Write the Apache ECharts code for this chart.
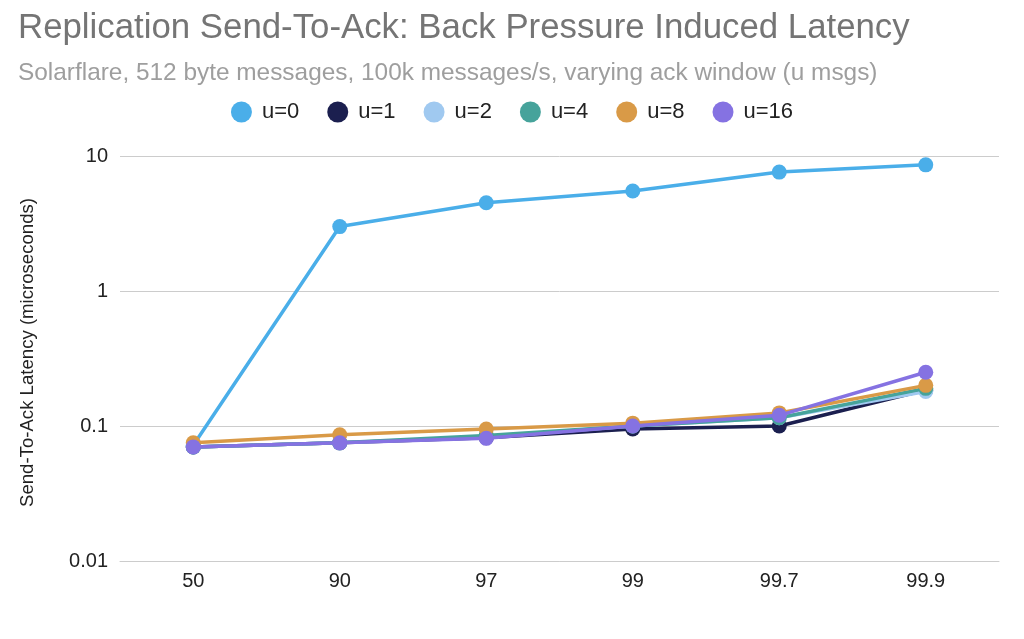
<!DOCTYPE html>
<html><head><meta charset="utf-8">
<script src="https://cdn.jsdelivr.net/npm/echarts@6/dist/echarts.min.js"></script>
<style>html,body{margin:0;padding:0;background:#fff}#c{width:1024px;height:639px}</style>
</head><body><div id="c"></div>
<script>
const categories = ['50','90','97','99','99.7','99.9'];
const u0  = [0.072, 3.0, 4.5, 5.5, 7.6, 8.6];
const u1  = [0.070, 0.075, 0.082, 0.095, 0.100, 0.185];
const u2  = [0.070, 0.075, 0.083, 0.100, 0.115, 0.180];
const u4  = [0.070, 0.075, 0.085, 0.100, 0.115, 0.190];
const u8  = [0.075, 0.086, 0.095, 0.105, 0.125, 0.200];
const u16 = [0.070, 0.075, 0.081, 0.100, 0.120, 0.250];
const names = ['u=0','u=1','u=2','u=4','u=8','u=16'];
const colors = ['#4aaee9','#1b1f4f','#a0c9f0','#46a39b','#d99a47','#8572e2'];
const values = [u0,u1,u2,u4,u8,u16];
const font = '"Liberation Sans", Arial, sans-serif';
const chart = echarts.init(document.getElementById('c'));
chart.setOption({
  animation:false,
  color: colors,
  title:[
    {text:'Replication Send-To-Ack: Back Pressure Induced Latency', left:13, top:6,
     textStyle:{fontFamily:font, fontSize:34.8, fontWeight:'normal', color:'#757575'}},
    {text:'Solarflare, 512 byte messages, 100k messages/s, varying ack window (u msgs)', left:13, top:56,
     textStyle:{fontFamily:font, fontSize:24.4, fontWeight:'normal', color:'#9e9e9e'}}
  ],
  legend:{top:96, left:'center', icon:'circle', itemWidth:21, itemHeight:21, itemGap:28,
    textStyle:{fontFamily:font, fontSize:22, color:'#222', padding:[0,0,0,5]}, data:names},
  grid:{left:120, right:25, top:156, bottom:78},
  xAxis:{type:'category', data:categories, boundaryGap:true,
    axisLine:{lineStyle:{color:'#ccc'}}, axisTick:{show:false},
    axisLabel:{fontFamily:font, fontSize:20, color:'#222', margin:10}},
  yAxis:{type:'log', logBase:10, min:0.01, max:10,
    name:'Send-To-Ack Latency (microseconds)', nameLocation:'middle', nameGap:83,
    nameTextStyle:{fontFamily:font, fontSize:18.6, color:'#222', padding:[0,0,0,12]},
    axisLine:{show:false}, axisTick:{show:false},
    splitLine:{lineStyle:{color:'#ccc', width:1}},
    axisLabel:{fontFamily:font, fontSize:20, color:'#222', margin:12,
      formatter: v => String(+v.toPrecision(3))}},
  series: names.map((n,i)=>({name:n, type:'line', data:values[i], symbol:'circle', symbolSize:15,
    lineStyle:{width:3.5, color:colors[i]}, itemStyle:{color:colors[i]}, z:2+i}))
});
</script></body></html>
